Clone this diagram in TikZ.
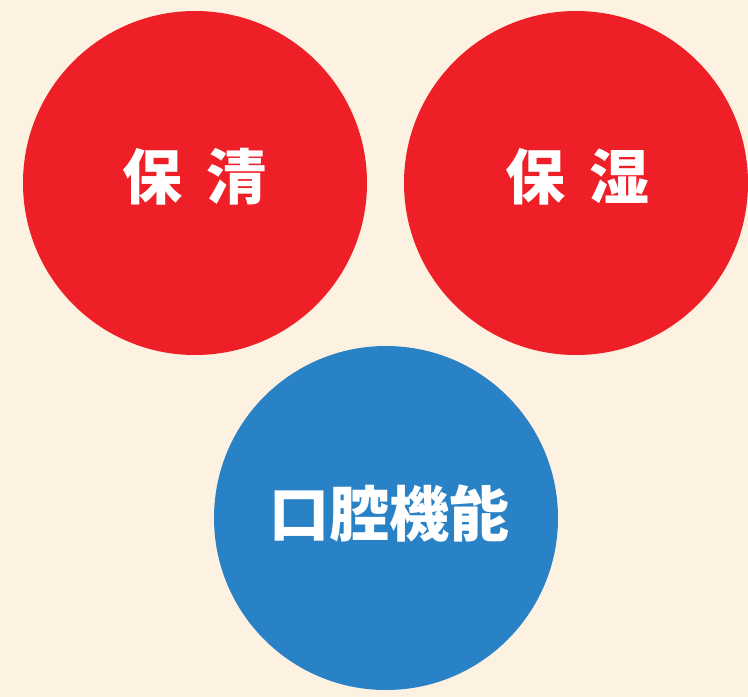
\documentclass[tikz,border=0pt]{standalone}
\usepackage{fontspec}
\newfontfamily\cjk{Noto Sans CJK JP}
\definecolor{bg}{HTML}{FDF1E1}
\definecolor{cred}{HTML}{EE1F26}
\definecolor{cblue}{HTML}{2A82C6}
\tikzset{
  bubble/.style={circle, minimum size=344pt, inner sep=0pt, draw=none},
  lbl/.style={text=white, font=\cjk\bfseries\fontsize{60}{60}\selectfont, inner sep=0pt}
}
\begin{document}
\begin{tikzpicture}[x=1pt,y=-1pt]
\fill[bg] (0,0) rectangle (748,697);
\useasboundingbox (0,0) rectangle (748,697);
\node[bubble, fill=cred] (c1) at (195,183) {};
\node[bubble, fill=cred] (c2) at (576,183) {};
\node[bubble, fill=cblue] (c3) at (386,518) {};
\node[lbl] (t1) at (194,177) {保\hspace{24pt}清};
\node[lbl] (t2) at (577,177) {保\hspace{24pt}湿};
\node[lbl, font=\cjk\bfseries\fontsize{60}{60}\selectfont] (t3) at (389,513) {口腔機能};
\end{tikzpicture}
\end{document}
